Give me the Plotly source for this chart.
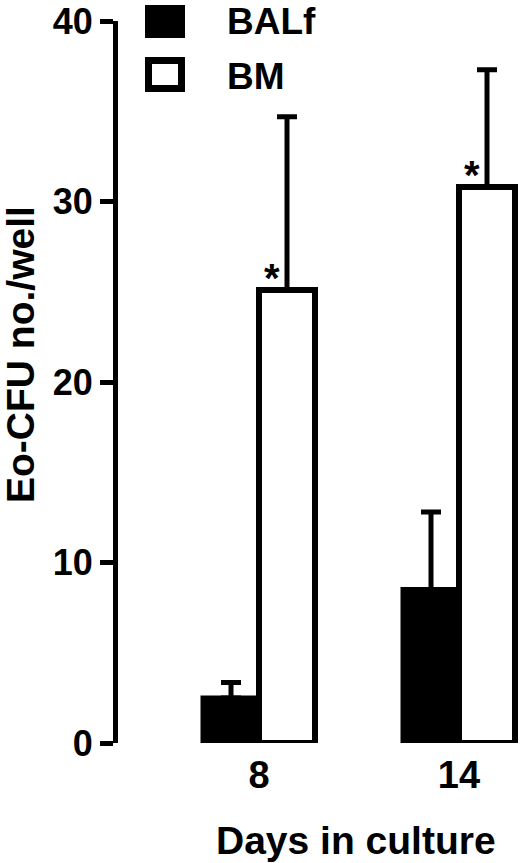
import plotly.graph_objects as go

days = ["8", "14"]
balf_mean = [2.5, 8.5]
balf_err = [0.85, 4.3]
bm_mean = [25.1, 30.8]
bm_err = [9.6, 6.5]
sig_labels = ["*", "*"]
yticks = [0, 10, 20, 30, 40]

W, H = 520, 863
L, R_EDGE, T, B_EDGE = 118, 520, 21, 743
FONT = "Liberation Sans, Arial, Helvetica, sans-serif"
GROUP0_PX, GROUP_STEP_PX = 259, 200

def px(x):
    return (x - L) / (R_EDGE - L)

def py(y):
    return (B_EDGE - y) / (B_EDGE - T)

xpos = list(range(len(days)))
x_lo = -(GROUP0_PX - L) / GROUP_STEP_PX
x_hi = x_lo + (R_EDGE - L) / GROUP_STEP_PX

fig = go.Figure()
fig.add_trace(go.Bar(
    x=xpos, y=balf_mean, name="BALf",
    marker=dict(color="black", line=dict(color="black", width=5)),
    error_y=dict(type="data", array=balf_err, symmetric=False, arrayminus=[0]*len(days),
                 color="black", thickness=5, width=10),
    cliponaxis=False,
))
fig.add_trace(go.Bar(
    x=xpos, y=bm_mean, name="BM",
    marker=dict(color="white", line=dict(color="black", width=6)),
    error_y=dict(type="data", array=bm_err, symmetric=False, arrayminus=[0]*len(days),
                 color="black", thickness=5, width=10),
    cliponaxis=False,
))

for i, (v, s) in enumerate(zip(bm_mean, sig_labels)):
    fig.add_annotation(x=i + 0.065, y=v, text="<b>%s</b>" % s, showarrow=False,
                       xanchor="center", yanchor="bottom", yshift=-12,
                       font=dict(family=FONT, size=40, color="black"))

# legend drawn manually
fig.add_shape(type="rect", xref="paper", yref="paper",
              x0=px(145), x1=px(185), y0=py(38), y1=py(5),
              fillcolor="black", line=dict(color="black", width=0))
fig.add_shape(type="rect", xref="paper", yref="paper",
              x0=px(148.5), x1=px(181.5), y0=py(88.5), y1=py(60.5),
              fillcolor="white", line=dict(color="black", width=7))
fig.add_annotation(xref="paper", yref="paper", x=px(225), y=py(21), text="<b>BALf</b>",
                   showarrow=False, xanchor="left", yanchor="middle",
                   font=dict(family=FONT, size=37, color="black"))
fig.add_annotation(xref="paper", yref="paper", x=px(225), y=py(76), text="<b>BM</b>",
                   showarrow=False, xanchor="left", yanchor="middle",
                   font=dict(family=FONT, size=37, color="black"))

# axis titles
fig.add_annotation(xref="paper", yref="paper", x=px(356), y=py(840), text="<b>Days in culture</b>",
                   showarrow=False, xanchor="center", yanchor="middle",
                   font=dict(family=FONT, size=39, color="black"))
fig.add_annotation(xref="paper", yref="paper", x=px(20), y=py(355), text="<b>Eo-CFU no./well</b>",
                   showarrow=False, xanchor="center", yanchor="middle", textangle=-90,
                   font=dict(family=FONT, size=39, color="black"))

fig.update_layout(
    width=W, height=H,
    margin=dict(l=L, r=W - R_EDGE, t=T, b=H - B_EDGE),
    paper_bgcolor="white", plot_bgcolor="white",
    barmode="group", bargap=0.44, bargroupgap=0,
    showlegend=False,
    font=dict(family=FONT, color="black"),
)
fig.update_xaxes(
    range=[x_lo, x_hi], tickvals=xpos, ticktext=["<b>%s</b>" % d for d in days],
    showline=False, showgrid=False, zeroline=False, ticks="",
    tickfont=dict(family=FONT, size=38, color="black"), ticklabelstandoff=6,
    automargin=False,
)
fig.update_yaxes(
    range=[0, 40], tickvals=yticks, ticktext=["<b>%d</b>" % t for t in yticks],
    showline=True, linewidth=5, linecolor="black", showgrid=False, zeroline=False,
    ticks="outside", ticklen=13, tickwidth=5, tickcolor="black",
    tickfont=dict(family=FONT, size=36, color="black"),
    automargin=False,
)

fig.write_html("out.html", config={"displayModeBar": False},
               post_script="document.body.style.margin='0';document.body.style.overflow='hidden';")
